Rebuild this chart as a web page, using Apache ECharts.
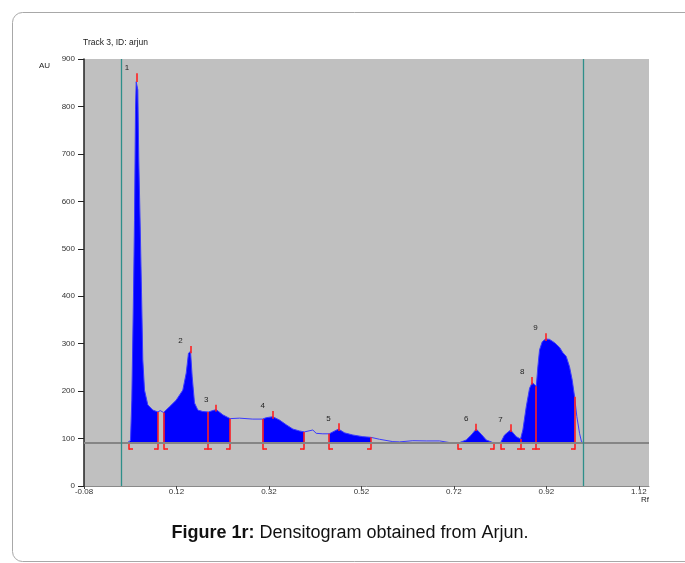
<!DOCTYPE html>
<html><head><meta charset="utf-8">
<script src="https://cdn.jsdelivr.net/npm/echarts@6/dist/echarts.min.js"></script>
<style>html,body{margin:0;padding:0;background:#fff;}#c{width:685px;height:563px;}</style>
</head><body><div id="c"></div>
<script>
// ---- data ----
const X_SHIFT = 0.08;               // axis origin is Rf -0.08
const X_TICK_LABELS = ['-0.08','0.12','0.32','0.52','0.72','0.92','1.12'];
const Y_TICKS = [0,100,200,300,400,500,600,700,800,900];
const BASELINE_AU = 91;
const FRONT_LINES_RF = [-0.003, 0.997];

const RF = [-0.030,0.0141,0.0171,0.0206,0.0234,0.0271,0.0292,0.0314,0.0329,0.0346,0.0364,0.0385,0.0416,0.0444,0.0472,0.0509,0.0580,0.0688,0.0799,0.0848,
0.0920,0.1049,0.1194,0.1337,0.1411,0.1460,0.1504,0.1540,0.1590,0.1662,0.1770,0.1889,0.1986,0.2060,0.2202,0.2360,0.2564,0.2851,0.3061,0.3141,
0.3284,0.3429,0.3574,0.3717,0.3862,0.3965,0.4006,0.4149,0.4223,0.4366,0.4506,0.4582,0.4705,0.4835,0.5014,0.5231,0.5408,0.5592,0.5880,0.6025,
0.6312,0.6602,0.6890,0.7106,0.7296,0.7467,0.7576,0.7684,0.7792,0.7900,0.8069,0.8209,0.8296,0.8426,0.8549,0.8642,0.8692,0.8765,0.8837,0.8895,
0.8982,0.9016,0.9053,0.9111,0.9183,0.9269,0.9377,0.9486,0.9557,0.9630,0.9702,0.9760,0.9810,0.9860,0.9918,0.9961,1.0005,1.0589];
const AU = [91,91.5,91.5,96,181,407,560,793,852,856,835,687,546,407,266,202,171,160,156,159,
155,167,181,202,238,280,284,230,175,160,157,156,159,161,150,142,143,141,141,144,
146,139,129,120,116,114,114,118,111,110,110,114,120,112,107.5,104,102.5,98.5,93.5,93,
95.5,95,95,91.5,90.5,97,107.5,120,109,97,90.5,91,107.5,118,104,99,118,167,206,218,
210,251,287,304,310,309,302,292,281,273,251,223,188,146,111,93,91,91];

const PEAK_IDS = ['1','2','3','4','5','6','7','8','9'];
const PEAK_RF = [0.0346,0.1504,0.2060,0.3284,0.4705,0.7684,0.8426,0.8895,0.9183];
const PEAK_TICK_TOP = [870,295,171,158,132,131,130,230,322];
const PEAK_RANGES = [[0.0171,0.0799],[0.0920,0.1889],[0.1889,0.2360],[0.3061,0.3965],[0.4506,0.5408],
                     [0.7296,0.8069],[0.8209,0.8642],[0.8642,0.8982],[0.8982,0.9810]];
const BOUND_RF = [0.0171,0.0799,0.0920,0.1889,0.2360,0.3061,0.3965,0.4506,0.5408,0.7296,0.8069,0.8209,0.8642,0.8982,0.9810];
const BOUND_FOOT = ['start','end','start','both','end','start','end','start','end','start','end','start','both','both','end'];

// ---- build ----
const X_MAX = 1.222;
const MARK_BOTTOM_AU = 77;
function curveAt(r){
  for (let i=0;i<RF.length-1;i++){
    if (r>=RF[i] && r<=RF[i+1]){
      const t=(r-RF[i])/(RF[i+1]-RF[i]); return AU[i]+t*(AU[i+1]-AU[i]);
    }
  }
  return BASELINE_AU;
}
const curve = RF.map((r,i)=>[r+X_SHIFT, AU[i]]);
const filled = [];
let prevEnd = null;
PEAK_RANGES.forEach(([a,b])=>{
  if (prevEnd!==null && Math.abs(prevEnd-a)>1e-6) filled.push([null,null]);
  RF.forEach((r,i)=>{ if (r>=a-1e-6 && r<=b+1e-6){
    if (!(filled.length && filled[filled.length-1][0]!==null && Math.abs(filled[filled.length-1][0]-(r+X_SHIFT))<1e-7))
      filled.push([r+X_SHIFT, AU[i]]);
  }});
  prevEnd = b;
});
const FONT = '"Liberation Sans", Arial, sans-serif';
const RED = '#ff2020';

function redRect(x1,y1,x2,y2){
  return {type:'rect', shape:{x:Math.min(x1,x2), y:Math.min(y1,y2), width:Math.max(1.6,Math.abs(x2-x1)), height:Math.max(1.6,Math.abs(y2-y1))},
          style:{fill:RED}};
}

const chart = echarts.init(document.getElementById('c'), null, {renderer:'canvas'});
chart.setOption({
  animation:false,
  backgroundColor:'#fff',
  grid:{left:84, top:59, width:565, height:427, show:true, backgroundColor:'#c0c0c0', borderWidth:0},
  xAxis:{type:'value', min:0, max:X_MAX, interval:0.2,
    axisLine:{lineStyle:{color:'#8a8a8a', width:1}},
    axisTick:{length:3, lineStyle:{color:'#444'}},
    splitLine:{show:false},
    axisLabel:{fontSize:8, color:'#333', margin:2, fontFamily:FONT, showMaxLabel:false,
      formatter:v=>{const k=Math.round(v/0.2); return Math.abs(k*0.2-v)<1e-6 && X_TICK_LABELS[k]!==undefined ? X_TICK_LABELS[k] : '';}}},
  yAxis:{type:'value', min:Y_TICKS[0], max:Y_TICKS[Y_TICKS.length-1], interval:100,
    axisLine:{show:true, lineStyle:{color:'#222', width:1.5}},
    axisTick:{show:true, length:6, lineStyle:{color:'#222'}},
    splitLine:{show:false},
    axisLabel:{fontSize:8, color:'#333', margin:9, fontFamily:FONT}},
  series:[
    {type:'line', data:curve, z:1, symbol:'none', silent:true, lineStyle:{width:0, opacity:0},
     markLine:{silent:true, symbol:['none','none'], label:{show:false},
       data:[{yAxis:BASELINE_AU, lineStyle:{color:'#858585', width:2, type:'solid'}}]
         .concat(FRONT_LINES_RF.map(r=>({xAxis:r+X_SHIFT, lineStyle:{color:'#2e8f8a', width:1.3, type:'solid'}})))}},
    {type:'line', data:filled, z:2, symbol:'none', silent:true, connectNulls:false,
     lineStyle:{width:0, color:'#0000ff'}, areaStyle:{color:'#0000ff', opacity:1, origin:BASELINE_AU}},
    {type:'line', data:curve, z:3, symbol:'none', silent:true, lineStyle:{width:1, color:'#3a3aff'}},
    {type:'custom', z:4, silent:true,
     data:BOUND_RF.map((r,i)=>[r+X_SHIFT, curveAt(r), i]),
     encode:{x:0,y:1},
     renderItem:(params, api)=>{
       const x=api.value(0), top=api.coord([x, api.value(1)]), bot=api.coord([x, MARK_BOTTOM_AU]);
       const foot=BOUND_FOOT[api.value(2)];
       const px=Math.round(top[0]), by=Math.round(bot[1]);
       const ch=[redRect(px-0.8, top[1], px+0.8, by+0.8)];
       if (foot==='start'||foot==='both') ch.push(redRect(px, by-0.8, px+4, by+0.8));
       if (foot==='end'||foot==='both') ch.push(redRect(px-4, by-0.8, px, by+0.8));
       return {type:'group', children:ch};
     }},
    {type:'custom', z:5, silent:true,
     data:PEAK_RF.map((r,i)=>[r+X_SHIFT, curveAt(r), PEAK_TICK_TOP[i], i]),
     encode:{x:0,y:2},
     renderItem:(params, api)=>{
       const x=api.value(0), a=api.coord([x, api.value(1)]), b=api.coord([x, api.value(2)]);
       const px=Math.round(a[0]);
       return {type:'group', children:[
         redRect(px-0.8, b[1], px+0.8, a[1]+2),
         {type:'text', x:b[0]-10, y:b[1]-5, style:{text:PEAK_IDS[api.value(3)], fill:'#222', font:'8px '+FONT, align:'center', verticalAlign:'middle'}}
       ]};
     }}
  ],
  graphic:[
    {type:'rect', shape:{x:12.5, y:12.5, width:690, height:549, r:10}, style:{fill:'none', stroke:'#a8a8a8', lineWidth:1}, z:-10},
    {type:'text', left:83, top:38, style:{text:'Track 3, ID: arjun', fill:'#222', font:'8.5px '+FONT}},
    {type:'text', left:39, top:62, style:{text:'AU', fill:'#222', font:'8px '+FONT}},
    {type:'text', x:649, y:500, style:{text:'Rf', fill:'#222', font:'8px '+FONT, align:'right', verticalAlign:'middle'}},
    {type:'text', x:350, y:533, style:{
      text:'{b|Figure 1r:} Densitogram obtained from Arjun.', align:'center', verticalAlign:'middle',
      font:'18px '+FONT, fill:'#111',
      rich:{b:{fontWeight:'bold', fontSize:18, fontFamily:FONT, fill:'#111'}}}}
  ]
});
</script></body></html>
